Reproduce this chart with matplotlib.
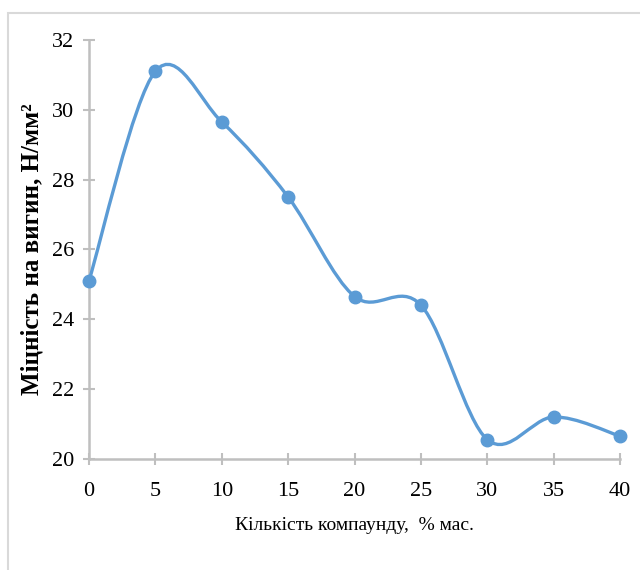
import matplotlib
matplotlib.use('Agg')
import matplotlib.pyplot as plt
import numpy as np
from matplotlib.path import Path
from matplotlib.patches import PathPatch, Rectangle

plt.rcParams['font.family'] = ['Liberation Serif', 'DejaVu Serif']

# data
compound = [0, 5, 10, 15, 20, 25, 30, 35, 40]
strength = [25.1, 31.1, 29.65, 27.5, 24.65, 24.4, 20.55, 21.2, 20.65]

x_label = 'Кількість компаунду,  % мас.'
y_label = 'Міцність на вигин, Н/мм²'

line_col = '#5b9bd5'
axis_col = '#bfbfbf'

fig = plt.figure(figsize=(6.4, 5.7), dpi=100)
ax = fig.add_axes([0.139, 0.195, 0.830, 0.735])

# smoothed line like the spreadsheet one (bezier through the points)
x = np.array(compound, dtype=float)
y = np.array(strength, dtype=float)
n = len(x)
verts = [(x[0], y[0])]
codes = [Path.MOVETO]
for i in range(n - 1):
    x0, y0 = (x[i - 1], y[i - 1]) if i > 0 else (x[i], y[i])
    x3, y3 = (x[i + 2], y[i + 2]) if i + 2 < n else (x[i + 1], y[i + 1])
    c1 = (x[i] + (x[i + 1] - x0) / 6, y[i] + (y[i + 1] - y0) / 6)
    c2 = (x[i + 1] - (x3 - x[i]) / 6, y[i + 1] - (y3 - y[i]) / 6)
    verts += [c1, c2, (x[i + 1], y[i + 1])]
    codes += [Path.CURVE4] * 3
ax.add_patch(PathPatch(Path(verts, codes), facecolor='none', edgecolor=line_col,
                       lw=2.4, capstyle='round', clip_on=False, zorder=3))
ax.plot(compound, strength, 'o', color=line_col, ms=9, clip_on=False, zorder=4)

ax.set_xlim(0, 40)
ax.set_ylim(20, 32)
ax.set_xticks(compound)
ax.set_yticks(np.arange(20, 33, 2))

for s in ['top', 'right']:
    ax.spines[s].set_visible(False)
for s in ['left', 'bottom']:
    ax.spines[s].set_color(axis_col)
    ax.spines[s].set_linewidth(1.8)
ax.tick_params(direction='inout', length=9, width=1.5, color=axis_col,
               labelsize=16)
ax.tick_params(axis='x', pad=12)
ax.tick_params(axis='y', pad=6)

ax.set_xlabel(x_label, fontsize=14, labelpad=12)
ax.set_ylabel(y_label, fontsize=18, fontweight='bold', labelpad=6)

# outer frame of the chart area
fig.patches.append(Rectangle((0.013, -0.05), 1.1, 1.028, transform=fig.transFigure,
                             fill=False, edgecolor='#d9d9d9', lw=1.5))

fig.savefig('out.png', dpi=100, facecolor='white')
